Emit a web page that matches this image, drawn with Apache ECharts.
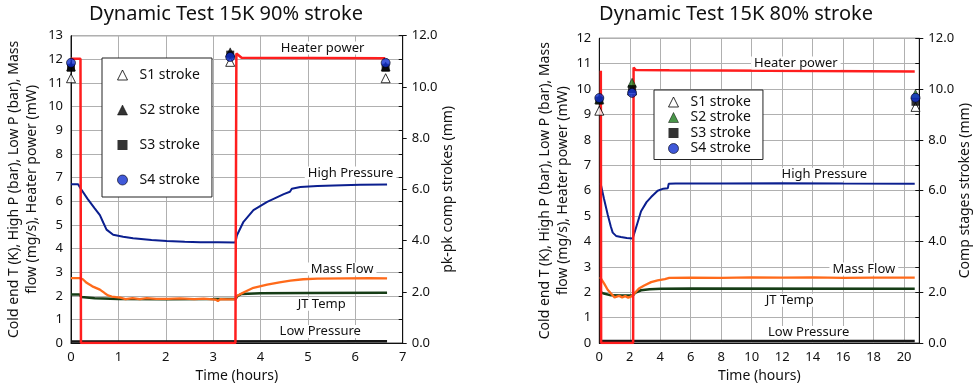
<!DOCTYPE html>
<html><head><meta charset="utf-8">
<script src="https://cdn.jsdelivr.net/npm/echarts@6/dist/echarts.min.js"></script>
<style>html,body{margin:0;padding:0;background:#fff}#c{width:978px;height:388px}</style>
</head><body><div id="c"></div>
<script>
// ---------- Data: panel A (90% stroke) ----------
const titleA = 'Dynamic Test 15K 90% stroke';
const titleB = 'Dynamic Test 15K 80% stroke';
const heater90 = [[0,12.02],[0.2,12.02],[0.21,0],[3.47,0],[3.49,12.25],[3.6,12.07],[6.63,12.05]];
const highP90 = [[0,6.72],[0.15,6.72],[0.2,6.55],[0.35,6.1],[0.5,5.7],[0.61,5.41],[0.68,5.1],[0.75,4.8],[0.89,4.58],[1.1,4.5],[1.31,4.43],[1.7,4.36],[2.02,4.32],[2.4,4.29],[2.73,4.27],[3.1,4.26],[3.47,4.25],[3.5,4.55],[3.64,5.13],[3.85,5.62],[4.14,5.97],[4.49,6.3],[4.62,6.4],[4.66,6.53],[4.84,6.6],[5.2,6.64],[5.55,6.67],[6.1,6.7],[6.67,6.71]];
const massFlow90 = [[0,2.75],[0.18,2.75],[0.25,2.7],[0.33,2.55],[0.45,2.4],[0.61,2.26],[0.72,2.1],[0.78,2.02],[0.82,2.06],[0.86,1.97],[0.9,2.0],[0.95,1.94],[1.04,1.92],[1.15,1.86],[1.3,1.9],[1.45,1.86],[1.6,1.9],[1.8,1.87],[2.0,1.87],[2.02,1.95],[2.05,1.87],[2.3,1.89],[2.6,1.86],[2.8,1.88],[3.05,1.84],[3.1,1.78],[3.15,1.86],[3.3,1.85],[3.47,1.85],[3.5,1.99],[3.65,2.15],[3.85,2.34],[4.14,2.47],[4.4,2.57],[4.63,2.64],[4.9,2.7],[5.2,2.73],[5.8,2.74],[6.3,2.75],[6.67,2.74]];
const jt90 = [[0,2.06],[0.18,2.06],[0.22,1.95],[0.5,1.9],[1.0,1.87],[2.0,1.85],[3.0,1.86],[3.47,1.87],[3.52,2.0],[3.6,2.08],[4.0,2.11],[5.0,2.12],[6.67,2.13]];
const lowP90 = [[0,0.07],[6.67,0.08]];
const strokeTimes90 = [0, 3.36, 6.64];
const s1_90 = [10.34, 10.98, 10.34];
const s2_90 = [10.8, 11.35, 10.8];
const s3_90 = [10.75, 11.26, 10.75];
const s4_90 = [10.94, 11.17, 10.94];

// ---------- Data: panel B (80% stroke) ----------
const heater80 = [[0.1,10.72],[0.12,0],[2.22,0],[2.25,10.85],[2.4,10.75],[4.6,10.74],[4.65,10.69],[20.7,10.69]];
const highP80 = [[0.08,6.3],[0.15,6.25],[0.3,5.7],[0.55,5.06],[0.75,4.6],[0.88,4.35],[1.1,4.22],[1.42,4.18],[1.8,4.14],[2.19,4.12],[2.25,4.15],[2.41,4.54],[2.74,5.19],[3.1,5.55],[3.4,5.75],[3.83,6.0],[4.2,6.08],[4.5,6.1],[4.55,6.27],[5,6.28],[8,6.28],[12,6.29],[16,6.28],[20.7,6.27]];
const massFlow80 = [[0.05,2.6],[0.15,2.55],[0.33,2.33],[0.55,2.1],[0.77,1.95],[0.9,1.88],[1.0,1.8],[1.1,1.84],[1.3,1.86],[1.5,1.8],[1.7,1.85],[1.9,1.79],[2.1,1.84],[2.22,1.82],[2.3,1.95],[2.6,2.15],[2.95,2.27],[3.4,2.4],[3.83,2.47],[4.3,2.52],[4.59,2.57],[6,2.58],[8,2.57],[10,2.59],[12,2.58],[14,2.59],[16,2.57],[18,2.58],[20.7,2.58]];
const jt80 = [[0.05,2.02],[0.3,1.95],[0.77,1.88],[1.5,1.87],[2.22,1.88],[2.35,1.98],[2.74,2.08],[3.3,2.12],[4.05,2.14],[6,2.15],[20.7,2.14]];
const lowP80 = [[0.05,0.08],[20.7,0.08]];
const strokeTimes80 = [0, 2.15, 20.75];
const s1_80 = [9.15, 9.95, 9.3];
const s2_80 = [9.6, 10.25, 9.8];
const s3_80 = [9.55, 10.0, 9.5];
const s4_80 = [9.65, 9.85, 9.66];

const legendNames = ['S1 stroke','S2 stroke','S3 stroke','S4 stroke'];

const FONT = 'Noto Sans';
const zip = (xs, ys) => xs.map((x,i)=>[x, ys[i]]);

function ann(text, coord){
  return {symbol:'rect', symbolSize:0, silent:true,
    data:[{coord:coord, value:text}],
    label:{show:true, position:'inside', formatter:text, fontFamily:FONT, fontSize:13, color:'#111',
      backgroundColor:'#fff', padding:[0,3]}};
}
function line(name, data, xi, yi, color, width, mp){
  return {type:'line', name:name, data:data, xAxisIndex:xi, yAxisIndex:yi, showSymbol:false, symbol:'none',
    lineStyle:{color:color, width:width}, itemStyle:{color:color}, animation:false, markPoint:mp, z:3};
}
function scat(name, data, xi, yi, symbol, size, color, border, bw){
  return {type:'scatter', name:name, data:data, xAxisIndex:xi, yAxisIndex:yi, symbol:symbol, symbolSize:size,
    itemStyle:{color:color, borderColor:border, borderWidth:bw}, animation:false, z:5};
}
const txt = {fontFamily:FONT, fontSize:13, color:'#111'};
const grid = '#b0b0b0';

function xAx(gi, max, interval){
  return {type:'value', gridIndex:gi, min:0, max:max, interval:interval,
    name:'Time (hours)', nameLocation:'middle', nameGap:23, nameTextStyle:{fontFamily:FONT, fontSize:14, color:'#111'},
    axisLine:{lineStyle:{color:'#111'}}, axisTick:{show:false},
    axisLabel:Object.assign({margin:8, showMaxLabel: max===7}, txt),
    splitLine:{show:true, lineStyle:{color:grid, width:1}}};
}
function yLeft(gi, max, gap){
  return {type:'value', gridIndex:gi, min:0, max:max, interval:1, position:'left',
    name:'Cold end T (K), High P (bar), Low P (bar), Mass\nflow (mg/s), Heater power (mW)',
    nameLocation:'middle', nameGap:gap, nameRotate:90,
    nameTextStyle:{fontFamily:FONT, fontSize:14, color:'#111', lineHeight:18},
    axisLine:{show:true, lineStyle:{color:'#111'}}, axisTick:{show:false},
    axisLabel:Object.assign({margin:8}, txt),
    splitLine:{show:true, lineStyle:{color:grid, width:1}}};
}
function yRight(gi, name, gap){
  return {type:'value', gridIndex:gi, min:0, max:12, interval:2, position:'right',
    name:name, nameLocation:'middle', nameGap:gap, nameRotate:90,
    nameTextStyle:{fontFamily:FONT, fontSize:14, color:'#111'},
    axisLine:{show:true, lineStyle:{color:'#111'}}, axisTick:{show:true, length:4, lineStyle:{color:'#111'}},
    axisLabel:Object.assign({margin:9, formatter:v=>v.toFixed(1)}, txt),
    splitLine:{show:false}};
}
function yTicks(gi, max){
  return {type:'value', gridIndex:gi, min:0, max:max, interval:1, position:'right',
    axisLine:{show:false}, axisTick:{show:true, inside:true, length:4, lineStyle:{color:'#111'}},
    axisLabel:{show:false}, splitLine:{show:false}};
}
function legend(left, top, pad, gap, lh, s2color){
  return {orient:'vertical', left:left, top:top, padding:pad, itemGap:gap, itemWidth:10, itemHeight:10,
    borderColor:'#222', borderWidth:1, backgroundColor:'#fff', selectedMode:false,
    textStyle:{fontFamily:FONT, fontSize:14, color:'#111', lineHeight:lh, padding:[0,0,0,7]},
    data:[
      {name:'S1 stroke', icon:'triangle', itemStyle:{color:'#fff', borderColor:'#000', borderWidth:1}},
      {name:'S2 stroke', icon:'triangle', itemStyle:{color:s2color, borderColor:'#000', borderWidth:0.6}},
      {name:'S3 stroke', icon:'rect', itemStyle:{color:'#000', borderColor:'#000', borderWidth:0}},
      {name:'S4 stroke', icon:'circle', itemStyle:{color:'#1030d0', borderColor:'#001', borderWidth:0.8}}
    ]};
}

const chart = echarts.init(document.getElementById('c'), null, {renderer:'canvas'});
chart.setOption({
  animation:false,
  backgroundColor:'#fff',
  graphic:[
    {type:'text', x:226, y:14, style:{text:titleA, fontFamily:FONT, fontSize:20, fill:'#111', align:'center', verticalAlign:'middle'}},
    {type:'text', x:736, y:14, style:{text:titleB, fontFamily:FONT, fontSize:20, fill:'#111', align:'center', verticalAlign:'middle'}}
  ],
  legend:[legend(102, 58, [9,12,9,15], 19, 16, '#000'), legend(654, 90, [5,12,4,14], 1.5, 14, '#1b7a1b')],
  grid:[
    {left:71, right:575.3, top:35.7, bottom:42.3, show:true, borderColor:'#222', borderWidth:1, backgroundColor:'transparent'},
    {left:599.3, right:58.7, top:38.3, bottom:41.3, show:true, borderColor:'#222', borderWidth:1, backgroundColor:'transparent'}
  ],
  xAxis:[xAx(0,7,1), xAx(1,21,2)],
  yAxis:[yLeft(0,13,30), yRight(0,'pk-pk comp strokes (mm)',34), yTicks(0,13),
         yLeft(1,12,27), yRight(1,'Comp stages strokes (mm)',38), yTicks(1,12)],
  series:[
    line('Low Pressure A', lowP90, 0, 0, '#151515', 2.5, ann('Low Pressure',[5.26,0.49])),
    line('JT Temp A', jt90, 0, 0, '#163d16', 2.5, ann('JT Temp',[5.29,1.64])),
    line('Mass Flow A', massFlow90, 0, 0, '#ff6a1a', 2.3, ann('Mass Flow',[5.72,3.13])),
    line('High Pressure A', highP90, 0, 0, '#0b1f8f', 2, ann('High Pressure',[5.9,7.19])),
    line('Heater power A', heater90, 0, 0, '#ff1e1e', 2.5, ann('Heater power',[5.31,12.48])),
    scat('S1 stroke', zip(strokeTimes90, s1_90), 0, 1, 'triangle', 9, '#fff', '#000', 1),
    scat('S2 stroke', zip(strokeTimes90, s2_90), 0, 1, 'triangle', 9, '#000', '#000', 0.6),
    scat('S3 stroke', zip(strokeTimes90, s3_90), 0, 1, 'rect', 8, '#000', '#000', 0),
    scat('S4 stroke', zip(strokeTimes90, s4_90), 0, 1, 'circle', 9, '#1030d0', '#001', 0.8),

    line('Low Pressure B', lowP80, 1, 3, '#151515', 2.5, ann('Low Pressure',[13.74,0.42])),
    line('JT Temp B', jt80, 1, 3, '#163d16', 2.5, ann('JT Temp',[12.5,1.69])),
    line('Mass Flow B', massFlow80, 1, 3, '#ff6a1a', 2.3, ann('Mass Flow',[17.36,2.92])),
    line('High Pressure B', highP80, 1, 3, '#0b1f8f', 2, ann('High Pressure',[14.77,6.65])),
    line('Heater power B', heater80, 1, 3, '#ff1e1e', 2.5, ann('Heater power',[12.9,11.03])),
    scat('S1 stroke', zip(strokeTimes80, s1_80), 1, 4, 'triangle', 9, '#fff', '#000', 1),
    scat('S2 stroke', zip(strokeTimes80, s2_80), 1, 4, 'triangle', 9, '#1b7a1b', '#000', 0.6),
    scat('S3 stroke', zip(strokeTimes80, s3_80), 1, 4, 'rect', 8, '#000', '#000', 0),
    scat('S4 stroke', zip(strokeTimes80, s4_80), 1, 4, 'circle', 9, '#1030d0', '#001', 0.8)
  ]
});
</script></body></html>
